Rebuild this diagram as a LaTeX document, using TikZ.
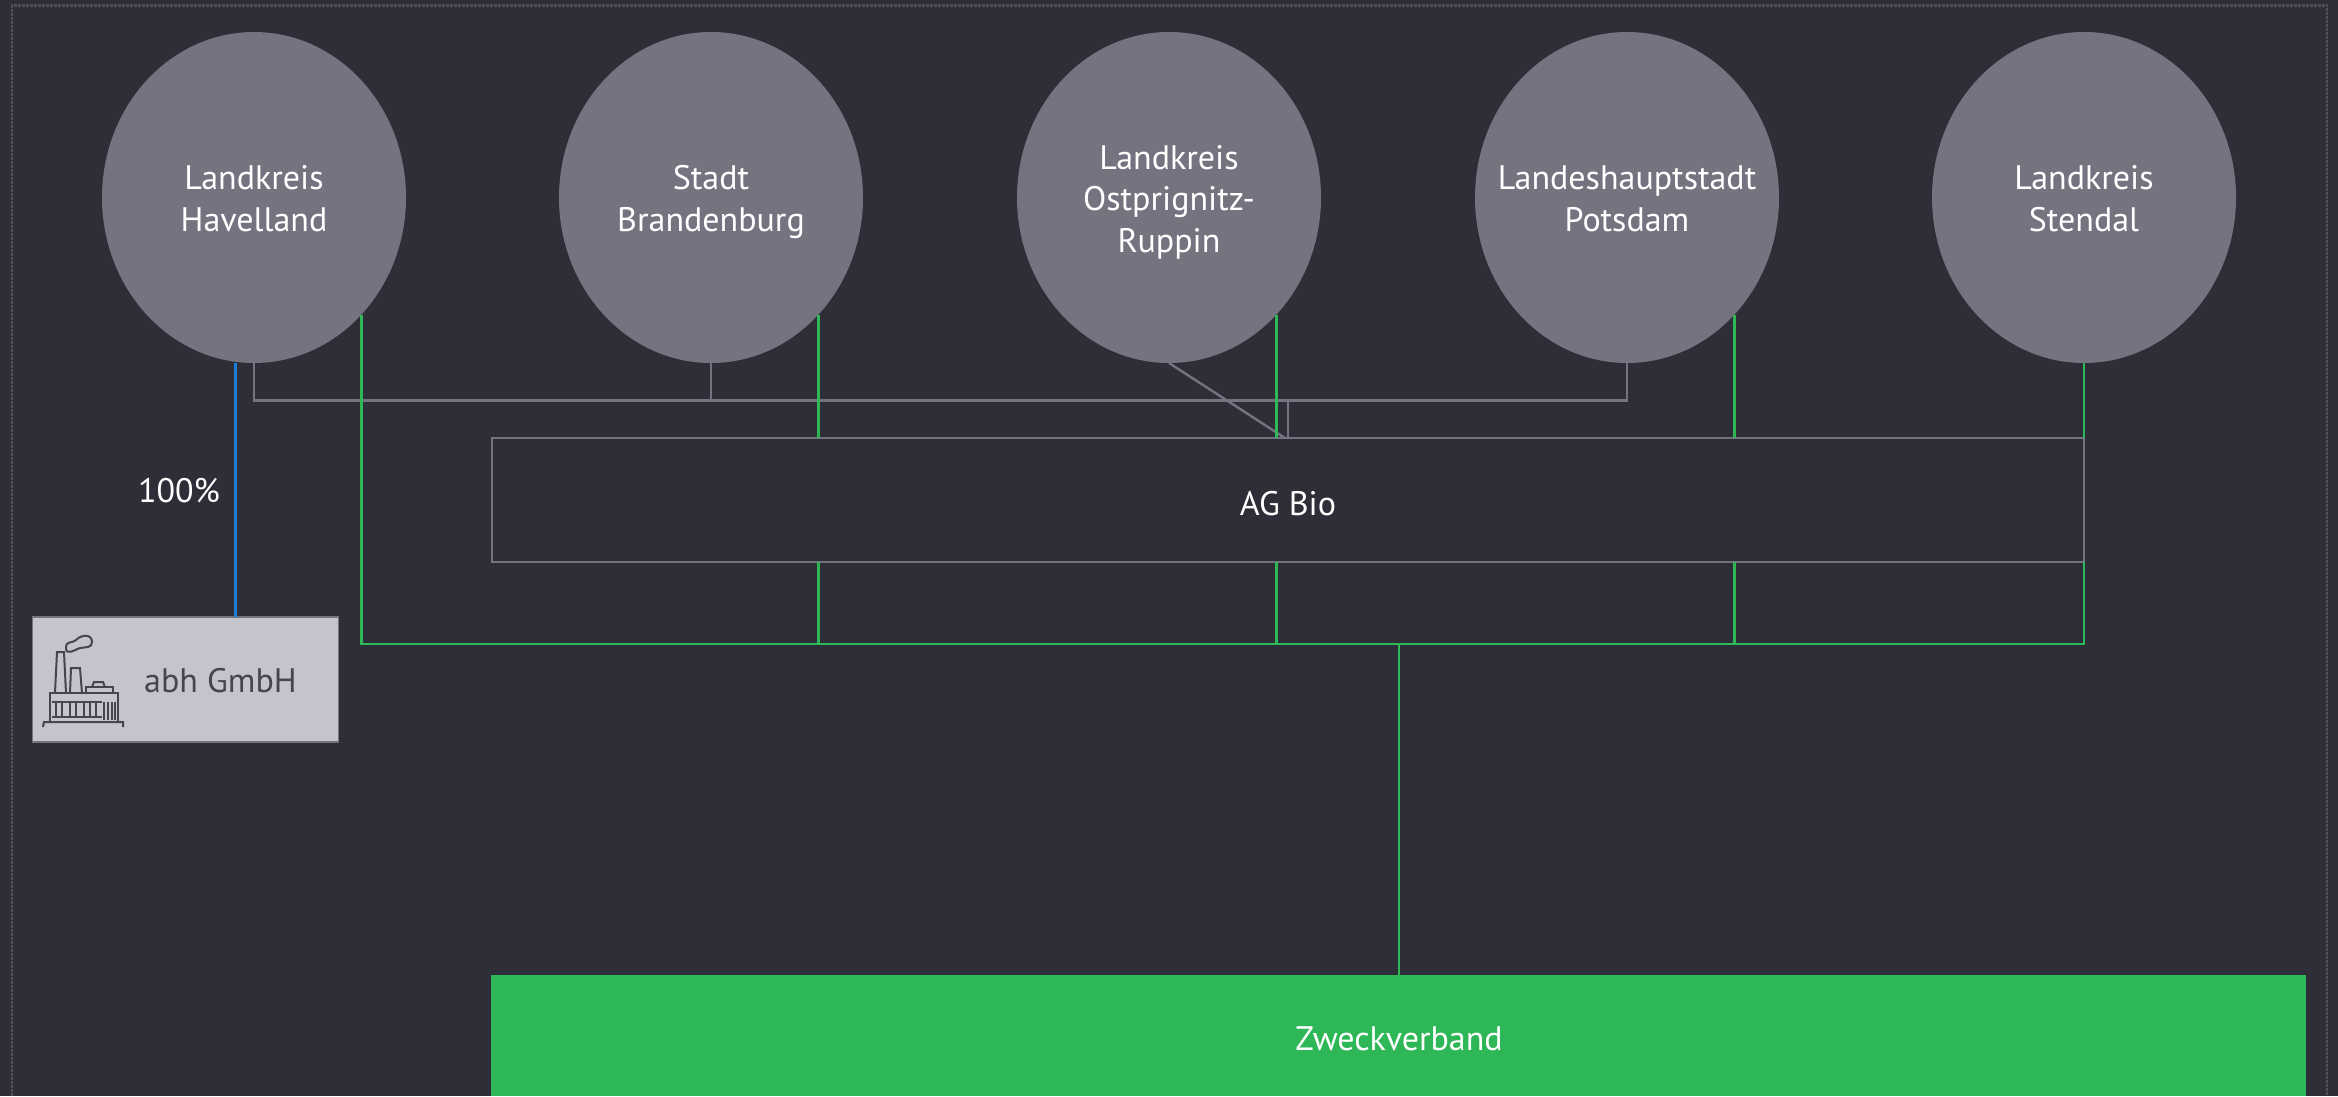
\documentclass[tikz,border=0pt]{standalone}
\usepackage{fontspec}
\setmainfont{PT Sans}
\usetikzlibrary{shapes.geometric}
\definecolor{bgdark}{HTML}{2E2E38}
\definecolor{kreisgrey}{HTML}{747480}
\definecolor{framegrey}{HTML}{50505C}
\definecolor{abhgrey}{HTML}{C4C4CD}
\definecolor{zvgreen}{HTML}{2DB757}
\definecolor{pctblue}{HTML}{1C7DD6}
\definecolor{icongrey}{HTML}{45454F}
\newcommand{\kreistop}{\rule{0pt}{35pt}}
\tikzset{
	kreis/.style={ellipse,fill=kreisgrey,text=white,inner sep=0pt,outer sep=0pt,minimum width=304pt,minimum height=331pt,align=center,font=\fontsize{34}{41.5}\selectfont,execute at end node={\rule[-9pt]{0pt}{9pt}}},
	greylink/.style={draw=kreisgrey,line width=2.4pt},
	greenlink/.style={draw=zvgreen,line width=2.4pt},
	bluelink/.style={draw=pctblue,line width=3pt},
	icon/.style={draw=icongrey,line width=2pt},
	plain/.style={inner sep=0pt,font=\fontsize{34}{41.5}\selectfont}
}
\begin{document}
\begin{tikzpicture}[x=1pt,y=1pt]
		\useasboundingbox [fill=bgdark] (0,0) rectangle (2338,-1096);
		\draw [framegrey,line width=2.4pt,dash pattern=on 3pt off 1pt] (12,-1096) -- (12,-5.5) -- (2327,-5.5) -- (2327,-1096);
		\node [kreis] (hav) at (254,-197.5) {\kreistop Landkreis\\Havelland};
		\node [kreis] (bra) at (711,-197.5) {\kreistop Stadt\\Brandenburg};
		\node [kreis] (opr) at (1169,-197.5) {\kreistop Landkreis\\Ostprignitz-\\Ruppin};
		\node [kreis] (pot) at (1627,-197.5) {\kreistop\makebox[0pt]{Landeshauptstadt}\\Potsdam};
		\node [kreis] (ste) at (2084,-197.5) {\kreistop Landkreis\\Stendal};
		\node [draw=kreisgrey,line width=2.4pt,inner sep=0pt,outer sep=0pt,minimum width=1592pt,minimum height=124pt,text=white,text height=34pt,text depth=4pt,font=\fontsize{34}{41.5}\selectfont] (bio) at (1288,-500) {AG Bio};
		\node [draw=kreisgrey,line width=1.5pt,fill=abhgrey,inner sep=0pt,outer sep=0pt,minimum width=306pt,minimum height=125pt] (abh) at (185.5,-679.5) {};
		\node [plain,text=icongrey,right] (abhtext) at (144,-681) {abh GmbH};
		\fill [zvgreen] (491,-974.5) rectangle (2306,-1096);
		\coordinate (zvtop) at (1399,-974.5);
		\node [plain,text=white] (zv) at (1399,-1039) {Zweckverband};
		\node [plain,text=white] (pct) at (179,-491) {100\%};
		\coordinate (blutop) at (235,-617);
		\coordinate (bus) at (1399,-644);
		\coordinate (graybus) at (1288,-400.5);
		\draw [bluelink] (hav.south -| blutop) -- (blutop);
		\draw [greylink] (hav.south) -- (hav.south |- graybus) -- (pot.south |- graybus) -- (pot.south);
		\draw [greylink] (bra.south) -- (bra.south |- graybus);
		\draw [greylink] (graybus) -- (graybus |- bio.north);
		\draw [greylink] (opr.south) -- (1285,-438);
		\draw [greenlink] (hav.south east) -- (hav.south east |- bus) -- (ste.south |- bus) -- (bio.south east);
		\draw [greenlink] (ste.south) -- (bio.north east);
		\foreach \k in {bra,opr,pot} {
			\draw [greenlink] (\k.south east) -- (\k.south east |- bio.north);
			\draw [greenlink] (\k.south east |- bio.south) -- (\k.south east |- bus);
		}
		\draw [greenlink] (bus) -- (zvtop);
		\draw [icon] (43,-727) -- (44,-722) -- (123,-722) -- (123,-727);
		\draw [icon] (50,-722) -- (50,-693) -- (118,-693) -- (118,-722);
		\draw [icon] (52,-717) -- (102,-717) (52,-702) -- (102,-702);
		\foreach \w in {56,62,70,76,84,90,96} {
			\draw [icon,line width=1.6pt] (\w,-702) -- (\w,-716);
		}
		\draw [icon,line width=1.8pt] (104,-702) -- (104,-720) (108,-702) -- (108,-720) (112,-702) -- (112,-720) (115,-702) -- (115,-720);
		\draw [icon] (55,-693) -- (57,-652) -- (64,-652) -- (66,-693);
		\draw [icon] (70,-693) -- (71,-668) -- (80,-668) -- (82,-693);
		\draw [icon] (86,-693) -- (86,-687) -- (113,-687) -- (113,-693);
		\draw [icon] (92,-687) -- (94,-682) -- (103,-682) -- (105,-687);
		\draw [icon] (66,-648) .. controls (66,-640) and (72,-644) .. (76,-640) .. controls (82,-634) and (92,-634) .. (92,-642) .. controls (92,-648) and (86,-647) .. (80,-648) .. controls (74,-650) and (66,-656) .. (66,-648);
		\end{tikzpicture}
\end{document}
